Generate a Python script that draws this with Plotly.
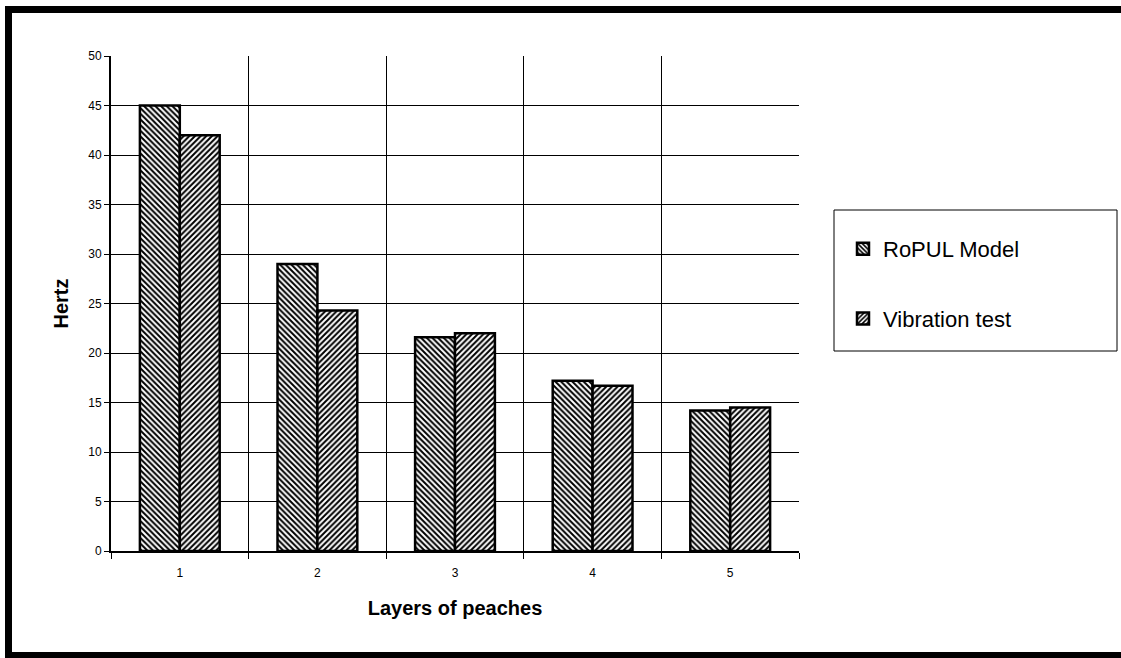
import plotly.graph_objects as go

layers = [1, 2, 3, 4, 5]
tick_labels = ["1", "2", "3", "4", "5"]
ropul_model = [45.0, 29.0, 21.6, 17.2, 14.2]
vibration_test = [42.0, 24.3, 22.0, 16.7, 14.5]

W, H = 1121, 658
L, R, T, B = 111, 799, 56, 551

def px(x):
    return (x - L) / (R - L)

def py(y):
    return (B - y) / (B - T)

font = "Arial, Liberation Sans, sans-serif"

fig = go.Figure()
fig.add_trace(go.Bar(
    x=layers, y=ropul_model, name="RoPUL Model", legendgroup="a",
    marker=dict(color="white", line=dict(color="black", width=2.5),
                pattern=dict(shape="\\", fgcolor="black", bgcolor="white",
                             size=4, solidity=0.5, fillmode="replace")),
))
fig.add_trace(go.Bar(
    x=layers, y=vibration_test, name="Vibration test", legendgroup="b",
    marker=dict(color="white", line=dict(color="black", width=2.5),
                pattern=dict(shape="/", fgcolor="black", bgcolor="white",
                             size=4, solidity=0.5, fillmode="replace")),
))

shapes = [
    # legend box
    dict(type="rect", xref="paper", yref="paper", x0=px(834), x1=px(1117),
         y0=py(351), y1=py(210), line=dict(color="black", width=1)),
    # outer frame
    dict(type="line", xref="paper", yref="paper", x0=px(5), x1=px(1121),
         y0=py(9.5), y1=py(9.5), line=dict(color="black", width=7)),
    dict(type="line", xref="paper", yref="paper", x0=px(8.5), x1=px(8.5),
         y0=py(6), y1=py(658), line=dict(color="black", width=7)),
    dict(type="line", xref="paper", yref="paper", x0=px(5), x1=px(1121),
         y0=py(655), y1=py(655), line=dict(color="black", width=6)),
]

fig.update_layout(
    width=W, height=H,
    margin=dict(l=L, r=W - R, t=T, b=H - B),
    paper_bgcolor="white", plot_bgcolor="white",
    barmode="group", bargap=0.42, bargroupgap=0,
    font=dict(family=font, color="black"),
    shapes=shapes,
    showlegend=True,
    legend=dict(x=px(843), y=py(228), xanchor="left", yanchor="top",
                font=dict(size=22, family=font), tracegroupgap=38,
                bgcolor="rgba(0,0,0,0)", borderwidth=0, traceorder="grouped",
                itemwidth=30),
    xaxis=dict(
        range=[0.5, 5.5], tickmode="array", tickvals=layers, ticktext=tick_labels,
        showgrid=False, ticks="", tickfont=dict(size=12), ticklabelstandoff=10,
        showline=True, linecolor="black", linewidth=2, zeroline=False,
        minor=dict(tickmode="array", tickvals=[0.5, 1.5, 2.5, 3.5, 4.5, 5.5],
                   showgrid=True, gridcolor="black", gridwidth=1,
                   ticks="outside", ticklen=6, tickcolor="black"),
        title=dict(text="<b>Layers of peaches</b>", font=dict(size=20), standoff=22),
    ),
    yaxis=dict(
        range=[0, 50], dtick=5, showgrid=True, gridcolor="black", gridwidth=1,
        ticks="outside", ticklen=5, tickcolor="black", tickfont=dict(size=12),
        showline=True, linecolor="black", linewidth=2, zeroline=False,
        title=dict(text="<b>Hertz</b>", font=dict(size=20), standoff=14),
    ),
)

fig.write_html("out.html")
